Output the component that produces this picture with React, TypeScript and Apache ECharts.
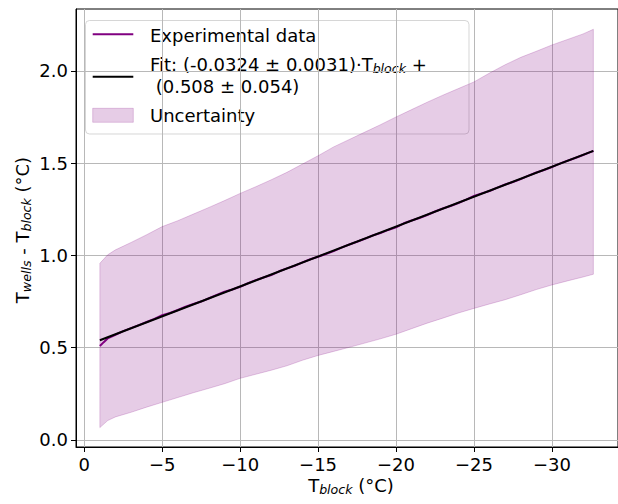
import React, { useEffect, useRef } from "react";
import * as echarts from "echarts";

// Block temperature (°C) of the measured points
const expX = [
  -1.0, -1.25, -1.5, -2.0, -2.5, -3.0, -3.5, -4.0, -4.5, -5.0, -5.5, -6.0, -6.5, -7.0, -7.5, -8.0,
  -8.5, -9.0, -9.5, -10.0, -10.5, -11.0, -11.5, -12.0, -12.5, -13.0, -13.5, -14.0, -14.5, -15.0,
  -15.5, -16.0, -16.5, -17.0, -17.5, -18.0, -18.5, -19.0, -19.5, -20.0, -20.5, -21.0, -21.5,
  -22.0, -22.5, -23.0, -23.5, -24.0, -24.5, -25.0, -25.5, -26.0, -26.5, -27.0, -27.5, -28.0,
  -28.5, -29.0, -29.5, -30.0, -30.5, -31.0, -31.5, -32.0, -32.5, -32.66,
];
// Measured T_wells - T_block (°C)
const expY = [
  0.509, 0.53, 0.55, 0.57, 0.59, 0.606, 0.622, 0.639, 0.656, 0.676, 0.688, 0.704, 0.722, 0.737,
  0.75, 0.768, 0.786, 0.803, 0.815, 0.83, 0.849, 0.866, 0.88, 0.894, 0.914, 0.93, 0.944, 0.962,
  0.979, 0.993, 1.008, 1.023, 1.042, 1.059, 1.074, 1.09, 1.108, 1.121, 1.138, 1.152, 1.174,
  1.189, 1.203, 1.219, 1.238, 1.254, 1.268, 1.284, 1.302, 1.322, 1.336, 1.349, 1.367, 1.384,
  1.398, 1.413, 1.432, 1.449, 1.463, 1.479, 1.497, 1.513, 1.528, 1.544, 1.561, 1.566,
];

// Uncertainty envelope
const bandX = [
  -1, -1.5, -2, -3, -4, -5, -6, -7, -8, -9, -10, -11, -12, -13, -14, -15, -16, -17, -18, -19, -20,
  -21, -22, -23, -24, -25, -26, -27, -28, -29, -30, -31, -32, -32.66,
];
const bandUpper = [
  0.957, 1.003, 1.03, 1.07, 1.112, 1.156, 1.188, 1.224, 1.26, 1.297, 1.336, 1.372, 1.41, 1.45,
  1.495, 1.54, 1.588, 1.628, 1.668, 1.708, 1.75, 1.79, 1.83, 1.868, 1.904, 1.94, 1.988, 2.033,
  2.073, 2.106, 2.14, 2.17, 2.2, 2.225,
];
const bandLower = [
  0.067, 0.105, 0.125, 0.15, 0.178, 0.204, 0.23, 0.256, 0.28, 0.305, 0.334, 0.356, 0.378, 0.402,
  0.432, 0.458, 0.48, 0.502, 0.525, 0.548, 0.573, 0.603, 0.633, 0.66, 0.688, 0.713, 0.737, 0.76,
  0.787, 0.815, 0.84, 0.862, 0.883, 0.898,
];

// Linear fit parameters
const fitSlope = -0.0324;
const fitIntercept = 0.508;
const fitRange = [-1, -32.66];

const xTicks = [0, -5, -10, -15, -20, -25, -30];
const yTicks = [0, 0.5, 1.0, 1.5, 2.0];

const FONT = '"DejaVu Sans", sans-serif';
const PURPLE = "#800080";

export default function App() {
  const ref = useRef<HTMLDivElement>(null);

  useEffect(() => {
    document.body.style.margin = "0";
    if (!ref.current) return;
    const chart = echarts.init(ref.current, undefined, { renderer: "svg" });

    const expData = expX.map((x, i) => [x, expY[i]]);
    const fitData = fitRange.map((x) => [x, fitSlope * x + fitIntercept]);
    const bandData = bandX.map((x, i) => [x, bandLower[i], bandUpper[i]]);

    const subRich = {
      n: { fontFamily: FONT, fontSize: 18, color: "#000", lineHeight: 22 },
      s: {
        fontFamily: FONT,
        fontSize: 12.6,
        fontStyle: "italic",
        color: "#000",
        lineHeight: 12,
        verticalAlign: "bottom",
      },
    };

    chart.setOption({
      animation: false,
      backgroundColor: "#fff",
      grid: {
        left: 76,
        top: 9,
        right: -9,
        bottom: 57,
        show: true,
        borderColor: "#000",
        borderWidth: 1,
        backgroundColor: "transparent",
      },
      xAxis: {
        type: "value",
        inverse: true,
        min: -34.24,
        max: 0.53,
        axisLine: { show: true, onZero: false, lineStyle: { color: "#000", width: 1 } },
        axisTick: {
          show: true,
          length: 5,
          customValues: xTicks,
          lineStyle: { color: "#000", width: 1 },
        },
        axisLabel: {
          customValues: xTicks,
          margin: 8,
          fontFamily: FONT,
          fontSize: 18,
          color: "#000",
          formatter: (v: number) => (v === 0 ? "0" : "\u2212" + Math.abs(v)),
        },
        splitLine: { show: true, lineStyle: { color: "#b8b8b8", width: 1 } },
      },
      yAxis: {
        type: "value",
        min: -0.038,
        max: 2.335,
        axisLine: { show: true, onZero: false, lineStyle: { color: "#000", width: 1 } },
        axisTick: {
          show: true,
          length: 5,
          customValues: yTicks,
          lineStyle: { color: "#000", width: 1 },
        },
        axisLabel: {
          customValues: yTicks,
          margin: 8,
          fontFamily: FONT,
          fontSize: 18,
          color: "#000",
          formatter: (v: number) => v.toFixed(1),
        },
        splitLine: { show: true, lineStyle: { color: "#b8b8b8", width: 1 } },
      },
      series: [
        {
          type: "custom",
          name: "Uncertainty",
          data: bandData,
          encode: { x: 0, y: [1, 2] },
          silent: true,
          renderItem: (params: any, api: any) => {
            if (params.dataIndex !== 0) return null;
            const pts: number[][] = [];
            for (let i = 0; i < bandX.length; i++) pts.push(api.coord([bandX[i], bandUpper[i]]));
            for (let i = bandX.length - 1; i >= 0; i--) pts.push(api.coord([bandX[i], bandLower[i]]));
            return {
              type: "polygon",
              shape: { points: pts },
              style: {
                fill: "rgba(128,0,128,0.2)",
                stroke: "rgba(128,0,128,0.2)",
                lineWidth: 1,
              },
            };
          },
        },
        {
          type: "line",
          name: "Experimental data",
          data: expData,
          showSymbol: false,
          lineStyle: { color: PURPLE, width: 2 },
          z: 3,
        },
        {
          type: "line",
          name: "Fit",
          data: fitData,
          showSymbol: false,
          lineStyle: { color: "#000", width: 2 },
          z: 4,
        },
      ],
      graphic: [
        // axis titles
        {
          type: "text",
          x: 351,
          y: 485,
          style: {
            text: "{n|T}{s|block}{n| (°C)}",
            align: "center",
            verticalAlign: "middle",
            rich: subRich,
          },
        },
        {
          type: "text",
          x: 22,
          y: 230,
          rotation: Math.PI / 2,
          style: {
            text: "{n|T}{s|wells}{n| - T}{s|block}{n| (°C)}",
            align: "center",
            verticalAlign: "middle",
            rich: subRich,
          },
        },
        // legend
        {
          type: "group",
          z: 100,
          children: [
            {
              type: "rect",
              shape: { x: 85.5, y: 20.5, width: 383.5, height: 113.5, r: 4 },
              style: {
                fill: "rgba(255,255,255,0.8)",
                stroke: "rgba(204,204,204,0.8)",
                lineWidth: 1,
              },
            },
            {
              type: "line",
              shape: { x1: 92.7, y1: 34.3, x2: 133.3, y2: 34.3 },
              style: { stroke: PURPLE, lineWidth: 2 },
            },
            {
              type: "text",
              x: 150,
              y: 35.5,
              style: {
                text: "Experimental data",
                fontFamily: FONT,
                fontSize: 18,
                fill: "#000",
                verticalAlign: "middle",
              },
            },
            {
              type: "line",
              shape: { x1: 92.7, y1: 76.7, x2: 133.3, y2: 76.7 },
              style: { stroke: "#000", lineWidth: 2 },
            },
            {
              type: "text",
              x: 150,
              y: 75,
              style: {
                text: "{n|Fit: (-0.0324 ± 0.0031)·T}{s|block}{n| +}\n{n| (0.508 ± 0.054)}",
                verticalAlign: "middle",
                rich: subRich,
              },
            },
            {
              type: "rect",
              shape: { x: 92.7, y: 108.3, width: 40.6, height: 14 },
              style: {
                fill: "rgba(128,0,128,0.2)",
                stroke: "rgba(128,0,128,0.2)",
                lineWidth: 1,
              },
            },
            {
              type: "text",
              x: 150,
              y: 115.5,
              style: {
                text: "Uncertainty",
                fontFamily: FONT,
                fontSize: 18,
                fill: "#000",
                verticalAlign: "middle",
              },
            },
          ],
        },
      ],
    });

    return () => chart.dispose();
  }, []);

  return <div ref={ref} style={{ width: 618, height: 504 }} />;
}
